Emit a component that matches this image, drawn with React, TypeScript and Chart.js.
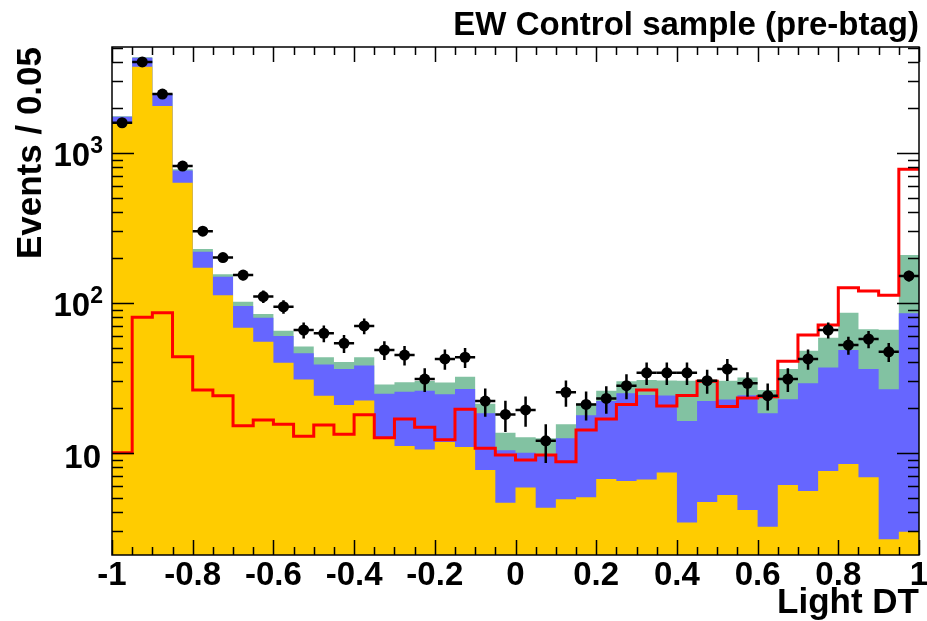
import React, { useEffect, useRef } from "react";
import { Chart, registerables } from "chart.js";

Chart.register(...registerables);

// ---- Data ----
const binEdges = [
  -1, -0.95, -0.9, -0.85, -0.8, -0.75, -0.7, -0.65, -0.6, -0.55,
  -0.5, -0.45, -0.4, -0.35, -0.3, -0.25, -0.2, -0.15, -0.1, -0.05,
  0, 0.05, 0.1, 0.15, 0.2, 0.25, 0.3, 0.35, 0.4, 0.45,
  0.5, 0.55, 0.6, 0.65, 0.7, 0.75, 0.8, 0.85, 0.9, 0.95, 1,
];
const binCenters = [
  -0.975, -0.925, -0.875, -0.825, -0.775, -0.725, -0.675, -0.625, -0.575, -0.525,
  -0.475, -0.425, -0.375, -0.325, -0.275, -0.225, -0.175, -0.125, -0.075, -0.025,
  0.025, 0.075, 0.125, 0.175, 0.225, 0.275, 0.325, 0.375, 0.425, 0.475,
  0.525, 0.575, 0.625, 0.675, 0.725, 0.775, 0.825, 0.875, 0.925, 0.975,
];
// stacked MC: cumulative tops of each layer
const yellowTop = [
  1585, 3740, 2050, 630, 171, 112, 68, 55, 39.8, 30.8,
  24, 20.8, 22.3, 12.5, 11.1, 10.5, 11.8, 10.9, 7.67, 4.64,
  5.87, 4.3, 4.89, 5.04, 6.68, 6.47, 6.64, 7.39, 3.43, 4.7,
  5.22, 4.15, 3.21, 6.1, 5.56, 7.55, 8.4, 6.85, 2.65, 2.97,
];
const blueTop = [
  1738, 4300, 2462, 760, 219, 149, 95, 79.4, 60, 46,
  38.8, 36.1, 38.2, 24.7, 25.5, 25.9, 24.5, 26.6, 18.3, 10.4,
  10, 9.66, 12.5, 17.8, 22.1, 24.9, 24.3, 24.1, 16.3, 22.1,
  22.6, 24.2, 18.3, 22.7, 29, 37, 48.4, 36.1, 26.5, 85,
];
const greenTop = [
  1750, 4330, 2480, 775, 228, 155, 101.6, 84, 65, 51,
  43.3, 40.3, 43.3, 28.5, 29.5, 30.1, 29.4, 32.1, 21.2, 13.6,
  12.7, 12.5, 15.5, 21.3, 25.9, 30, 30.5, 30.3, 30.2, 30.8,
  30.2, 31.7, 26.2, 36.1, 47.9, 58.4, 85.8, 66.5, 66, 208,
];
const redLine = [
  10, 80, 85.8, 43.6, 26.2, 24, 15.1, 16.5, 15.5, 12.9,
  15.3, 13.3, 17.9, 12.6, 16.8, 14.8, 12.2, 19.5, 10.7, 9.66,
  8.94, 9.66, 8.7, 14.2, 16.8, 21, 26.2, 20.5, 24.1, 30,
  20.3, 23.2, 23.6, 40.8, 60.9, 71, 126, 119.7, 112, 775,
];
const dataCounts = [
  1585, 4030, 2462, 815, 300, 200, 153, 110, 94, 65.8,
  62.5, 53.6, 70, 48.4, 44.8, 31, 42.2, 43.3, 22.1, 18,
  19.3, 12, 25.3, 21, 23, 28, 34.1, 34.1, 34.1, 30.2,
  36.1, 29, 24, 31, 42.2, 65.8, 52.2, 57.3, 47.1, 151,
];

const xTickValues = [-1, -0.8, -0.6, -0.4, -0.2, 0, 0.2, 0.4, 0.6, 0.8, 1];
const xTickLabels = ["-1", "-0.8", "-0.6", "-0.4", "-0.2", "0", "0.2", "0.4", "0.6", "0.8", "1"];
const yMajorValues = [10, 100, 1000];
const yMajorBase = ["10", "10", "10"];
const yMajorExp = ["", "2", "3"];
const yMinorValues = [
  3, 4, 5, 6, 7, 8, 9, 20, 30, 40, 50, 60, 70, 80, 90,
  200, 300, 400, 500, 600, 700, 800, 900, 2000, 3000, 4000, 5000,
];

const titleText = "EW Control sample (pre-btag)";
const xTitle = "Light DT";
const yTitle = "Events / 0.05";

const FONT = '"Liberation Sans", Arial, Helvetica, sans-serif';

const toSteps = (vals: number[]) =>
  binEdges.map((x, i) => ({ x, y: vals[Math.min(i, vals.length - 1)] }));

const errorBars = {
  id: "errorBars",
  afterDatasetsDraw(chart: any) {
    const { ctx, chartArea: a, scales } = chart;
    const xs = scales.x;
    const ys = scales.y;
    ctx.save();
    ctx.beginPath();
    ctx.rect(a.left, a.top, a.right - a.left, a.bottom - a.top);
    ctx.clip();
    ctx.strokeStyle = "#000";
    ctx.lineWidth = 2.5;
    dataCounts.forEach((n, i) => {
      const err = Math.sqrt(n);
      const cx = xs.getPixelForValue(binCenters[i]);
      const cy = ys.getPixelForValue(n);
      const x0 = xs.getPixelForValue(binEdges[i]);
      const x1 = xs.getPixelForValue(binEdges[i + 1]);
      const yHi = ys.getPixelForValue(n + err);
      const yLo = ys.getPixelForValue(Math.max(n - err, 0.01));
      ctx.beginPath();
      ctx.moveTo(x0, cy);
      ctx.lineTo(x1, cy);
      ctx.moveTo(cx, yHi);
      ctx.lineTo(cx, yLo);
      ctx.stroke();
    });
    ctx.restore();
  },
};

const rootAxes = {
  id: "rootAxes",
  afterDraw(chart: any) {
    const { ctx, chartArea: a, scales } = chart;
    const xs = scales.x;
    const ys = scales.y;
    ctx.save();
    ctx.strokeStyle = "#000";
    ctx.lineWidth = 1.5;
    // frame
    ctx.strokeRect(a.left, a.top, a.right - a.left, a.bottom - a.top);

    // x ticks (bottom + top)
    ctx.beginPath();
    binEdges.forEach((v) => {
      const px = Math.round(xs.getPixelForValue(v)) + 0.5;
      const major = xTickValues.some((t) => Math.abs(t - v) < 1e-6);
      const len = major ? 15 : 8;
      ctx.moveTo(px, a.bottom);
      ctx.lineTo(px, a.bottom - len);
      ctx.moveTo(px, a.top);
      ctx.lineTo(px, a.top + len);
    });
    // y ticks (left + right)
    const yTick = (v: number, len: number) => {
      const py = Math.round(ys.getPixelForValue(v)) + 0.5;
      ctx.moveTo(a.left, py);
      ctx.lineTo(a.left + len, py);
      ctx.moveTo(a.right, py);
      ctx.lineTo(a.right - len, py);
    };
    yMajorValues.forEach((v) => yTick(v, 22));
    yMinorValues.forEach((v) => yTick(v, 11));
    ctx.stroke();

    ctx.fillStyle = "#000";
    // x tick labels
    ctx.font = `bold 33px ${FONT}`;
    ctx.textAlign = "center";
    ctx.textBaseline = "alphabetic";
    xTickValues.forEach((v, i) => {
      ctx.fillText(xTickLabels[i], xs.getPixelForValue(v), 585);
    });

    // y tick labels
    yMajorValues.forEach((v, i) => {
      const py = ys.getPixelForValue(v);
      const base = py + 13;
      if (yMajorExp[i]) {
        ctx.font = `bold 23px ${FONT}`;
        ctx.textAlign = "right";
        ctx.fillText(yMajorExp[i], 103, base - 13);
        const ew = ctx.measureText(yMajorExp[i]).width;
        ctx.font = `bold 33px ${FONT}`;
        ctx.fillText(yMajorBase[i], 103 - ew, base);
      } else {
        ctx.font = `bold 33px ${FONT}`;
        ctx.textAlign = "right";
        ctx.fillText(yMajorBase[i], 101, base + 2);
      }
    });

    // titles
    ctx.font = `bold 33px ${FONT}`;
    ctx.textAlign = "right";
    ctx.fillText(titleText, 919, 35);

    ctx.font = `bold 35px ${FONT}`;
    ctx.fillText(xTitle, 919, 613);

    ctx.save();
    ctx.translate(41, a.top);
    ctx.rotate(-Math.PI / 2);
    ctx.textAlign = "right";
    ctx.fillText(yTitle, 0, 0);
    ctx.restore();

    ctx.restore();
  },
};

export default function App() {
  const ref = useRef<HTMLCanvasElement | null>(null);

  useEffect(() => {
    if (!ref.current) return;
    const histo = (vals: number[], color: string, order: number) => ({
      type: "line" as const,
      data: toSteps(vals),
      stepped: true,
      fill: "start",
      backgroundColor: color,
      borderColor: "rgba(0,0,0,0)",
      borderWidth: 0,
      pointRadius: 0,
      order,
    });
    const chart = new Chart(ref.current, {
      type: "line",
      data: {
        datasets: [
          {
            type: "scatter",
            data: binCenters.map((x, i) => ({ x, y: dataCounts[i] })),
            pointRadius: 5.5,
            pointStyle: "circle",
            backgroundColor: "#000",
            borderColor: "#000",
            borderWidth: 0,
            showLine: false,
            order: 0,
          } as any,
          {
            type: "line",
            data: toSteps(redLine),
            stepped: true,
            fill: false,
            borderColor: "#ff0000",
            borderWidth: 3,
            pointRadius: 0,
            order: 1,
          } as any,
          histo(yellowTop, "#ffcc00", 2) as any,
          histo(blueTop, "#6666ff", 3) as any,
          histo(greenTop, "#82c2a2", 4) as any,
        ],
      },
      options: {
        responsive: false,
        animation: false,
        events: [],
        devicePixelRatio: 1,
        layout: { padding: { left: 112, right: 8, top: 47, bottom: 66 } },
        plugins: {
          legend: { display: false },
          tooltip: { enabled: false },
          title: { display: false },
        },
        scales: {
          x: { type: "linear", min: -1, max: 1, display: false },
          y: { type: "logarithmic", min: 2.08, max: 5070, display: false },
        },
      },
      plugins: [errorBars, rootAxes],
    });
    return () => chart.destroy();
  }, []);

  return (
    <div style={{ position: "fixed", left: 0, top: 0, width: 927, height: 621, background: "#fff" }}>
      <canvas ref={ref} width={927} height={621} style={{ width: 927, height: 621, display: "block" }} />
    </div>
  );
}
